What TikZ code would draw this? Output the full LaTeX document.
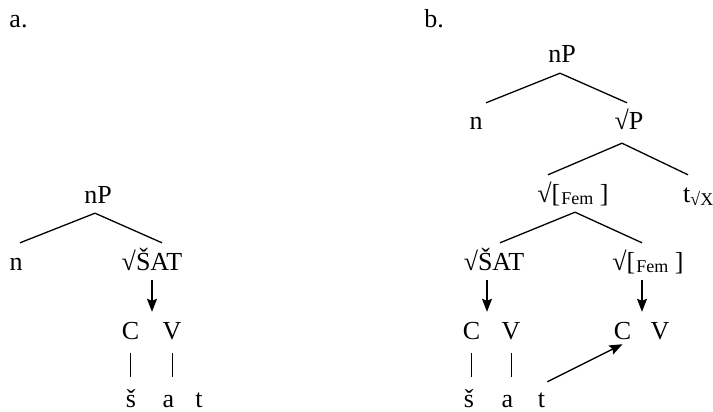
\documentclass[tikz,border=0pt]{standalone}
\usepackage{fontspec}
\setmainfont{Liberation Serif}
\usetikzlibrary{arrows.meta}

\tikzset{
  seg/.style={inner xsep=0pt, inner ysep=4pt, text height=23pt, text depth=6pt, anchor=base,
    font=\fontsize{26}{30}\selectfont},
  branch/.style={line width=1.3pt},
  derive/.style={line width=1.3pt, -{Stealth[length=13pt,width=10pt,inset=2pt]}},
  assoc/.style={line width=0.7pt},
}
\newcommand{\femroot}{√[\hspace{1pt}\raisebox{-2pt}{\fontsize{18}{18}\selectfont Fem}\ ]}

\begin{document}
\begin{tikzpicture}[x=1pt,y=-1pt]
    \useasboundingbox (0,0) rectangle (713,412);
    \clip (0,0) rectangle (713,412);

    % Panel labels
    \node[seg] (alabel) at (18.5,28) {a.};
    \node[seg] (blabel) at (434,28) {b.};

    % Tree a
    \node[seg] (nPa) at (98,203) {nP};
    \node[seg] (na) at (16,270) {n};
    \node[seg] (sata) at (152,270) {√ŠAT};
    \draw[branch] ([xshift=-3pt]nPa.south) -- ([xshift=4pt]na.north);
    \draw[branch] ([xshift=-3pt]nPa.south) -- ([xshift=10pt]sata.north);

    % Skeleton a
    \node[seg] (Ca) at (130.5,339) {C};
    \node[seg] (Va) at (172,339) {V};
    \node[seg] (sha) at (131,407) {š};
    \node[seg] (aa) at (168.5,407) {a};
    \node[seg] (ta) at (199,407) {t};
    \draw[derive] (sata.south) -- (sata.south |- Ca.north);
    \draw[assoc] ([yshift=-4pt]Ca.south) -- ([yshift=3pt]Ca.south |- sha.north);
    \draw[assoc] ([yshift=-4pt]Va.south) -- ([yshift=3pt]Va.south |- aa.north);

    % Tree b
    \node[seg] (nPb) at (562,63) {nP};
    \node[seg] (nb) at (476,130) {n};
    \node[seg] (rootPb) at (629,130) {√P};
    \node[seg] (fema) at (573,202) {\femroot};
    \node[seg,anchor=base west] (trace) at (683,202) {t\raisebox{-3pt}{\fontsize{18}{18}\selectfont √X}};
    \node[seg] (satb) at (494,270) {√ŠAT};
    \node[seg] (femb) at (648,270) {\femroot};
    \draw[branch] ([xshift=-2pt]nPb.south) -- ([xshift=10pt]nb.north);
    \draw[branch] ([xshift=-2pt]nPb.south) -- ([xshift=-2pt]rootPb.north);
    \draw[branch] ([xshift=-7pt,yshift=-3pt]rootPb.south) -- ([xshift=-25pt]fema.north);
    \draw[branch] ([xshift=-7pt,yshift=-3pt]rootPb.south) -- ([xshift=5pt]trace.north west);
    \draw[branch] ([xshift=2pt]fema.south) -- ([xshift=6pt]satb.north);
    \draw[branch] ([xshift=2pt]fema.south) -- ([xshift=-6pt]femb.north);

    % Skeletons b
    \node[seg] (Cb) at (471.5,339) {C};
    \node[seg] (Vb) at (511,339) {V};
    \node[seg] (Cc) at (622.5,339) {C};
    \node[seg] (Vc) at (660,339) {V};
    \node[seg] (shb) at (469,407) {š};
    \node[seg] (ab) at (507.5,407) {a};
    \node[seg] (tb) at (541.5,407) {t};
    \draw[derive] ([xshift=-7pt]satb.south) -- ([xshift=-7pt]satb.south |- Cb.north);
    \draw[derive] ([xshift=-6pt]femb.south) -- ([xshift=-6pt]femb.south |- Cc.north);
    \draw[assoc] ([yshift=-4pt]Cb.south) -- ([yshift=3pt]Cb.south |- shb.north);
    \draw[assoc] ([yshift=-4pt]Vb.south) -- ([yshift=3pt]Vb.south |- ab.north);
    \draw[derive] ([xshift=2pt,yshift=-2pt]tb.north east) -- ([yshift=5pt]Cc.south);
\end{tikzpicture}
\end{document}
